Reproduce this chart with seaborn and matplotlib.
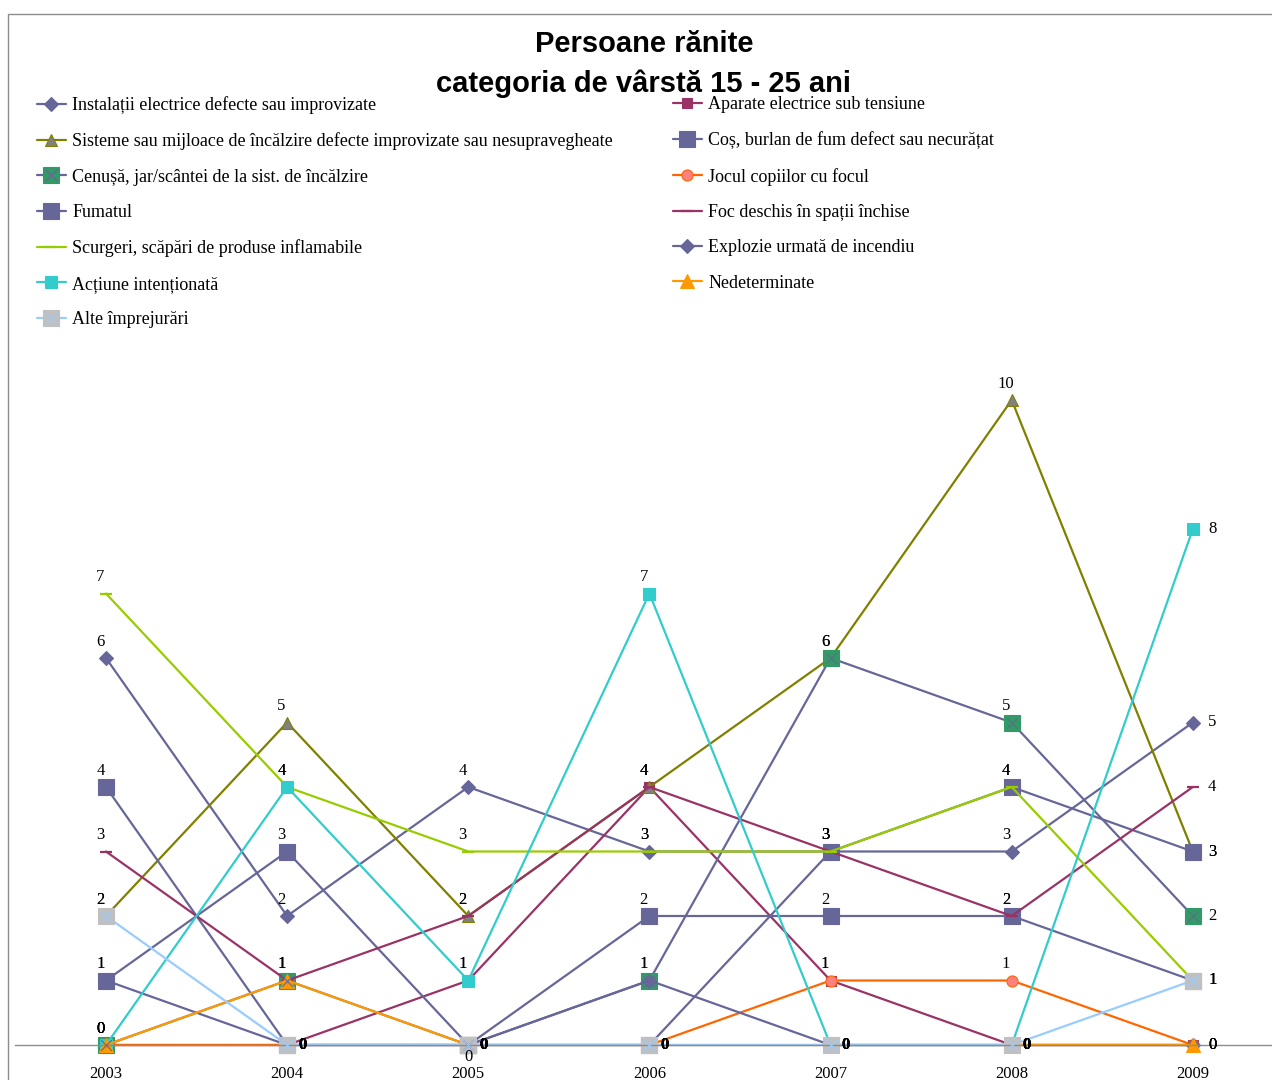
import pandas as pd
import numpy as np
import matplotlib.pyplot as plt
import seaborn as sns
from matplotlib.lines import Line2D
from matplotlib.legend_handler import HandlerTuple
from matplotlib.patches import Rectangle

years = [2003, 2004, 2005, 2006, 2007, 2008, 2009]

# values per cause
instalatii = [6, 2, 4, 3, 3, 3, 5]
aparate = [0, 0, 1, 4, 1, 0, 0]
sisteme = [2, 5, 2, 4, 6, 10, 3]
cos = [1, 3, 0, 2, 2, 2, 1]
cenusa = [0, 1, 0, 1, 6, 5, 2]
jocul = [0, 0, 0, 0, 1, 1, 0]
fumatul = [4, 0, 0, 0, 3, 4, 3]
foc = [3, 1, 2, 4, 3, 2, 4]
scurgeri = [7, 4, 3, 3, 3, 4, 1]
explozie = [1, 0, 0, 1, 0, 0, 0]
actiune = [0, 4, 1, 7, 0, 0, 8]
nedeterminate = [0, 1, 0, 0, 0, 0, 0]
alte = [2, 0, 0, 0, 0, 0, 1]

names = [
    'Instalații electrice defecte sau improvizate',
    'Aparate electrice sub tensiune',
    'Sisteme sau mijloace de încălzire defecte improvizate sau nesupravegheate',
    'Coș, burlan de fum defect sau necurățat',
    'Cenușă, jar/scântei de la sist. de încălzire',
    'Jocul copiilor cu focul',
    'Fumatul',
    'Foc deschis în spații închise',
    'Scurgeri, scăpări de produse inflamabile',
    'Explozie urmată de incendiu',
    'Acțiune intenționată',
    'Nedeterminate',
    'Alte împrejurări',
]
values = [instalatii, aparate, sisteme, cos, cenusa, jocul, fumatul,
          foc, scurgeri, explozie, actiune, nedeterminate, alte]

# line colour, marker, marker size, face colour, edge colour, overlay x colour
styles = [
    ('#666699', 'D', 7, '#666699', '#666699', None),
    ('#993366', 's', 7, '#993366', '#993366', None),
    ('#808000', '^', 9, '#808080', '#808000', None),
    ('#666699', 's', 11, '#666699', '#666699', None),
    ('#666699', 's', 11, '#339966', '#339966', '#666699'),
    ('#FF6600', 'o', 8, '#FF8080', '#FF6600', None),
    ('#666699', 's', 11, '#666699', '#666699', None),
    ('#993366', '_', 8, '#993366', '#993366', None),
    ('#99CC00', '_', 9, '#99CC00', '#99CC00', None),
    ('#666699', 'D', 7, '#666699', '#666699', None),
    ('#33CCCC', 's', 8, '#33CCCC', '#33CCCC', None),
    ('#FF9900', '^', 10, '#FF9900', '#FF9900', None),
    ('#99CCFF', 's', 11, '#C0C0C0', '#C0C0C0', '#99CCFF'),
]

sns.set_style('white')
plt.rcParams['font.family'] = ['Liberation Serif', 'DejaVu Serif']
plt.rcParams['text.color'] = 'black'
plt.rcParams['xtick.color'] = 'black'

fig = plt.figure(figsize=(12.72, 10.8), dpi=100)
ax = fig.add_axes([15.4 / 1272, 35 / 1080, 1268 / 1272, 709.5 / 1080])

handles = []
for nm, v, st in zip(names, values, styles):
    lc, mk, ms, fc, ec, xc = st
    sns.lineplot(x=years, y=v, ax=ax, color=lc, lw=1.6, marker=mk,
                 markersize=ms, markerfacecolor=fc, markeredgecolor=ec,
                 markeredgewidth=1.6 if mk == '_' else 0.8, clip_on=False)
    h = Line2D([], [], color=lc, lw=1.6, marker=mk, markersize=ms,
               markerfacecolor=fc, markeredgecolor=ec,
               markeredgewidth=1.6 if mk == '_' else 0.8)
    if xc:
        ax.scatter(years, v, marker='x', s=60, color=xc, linewidths=0.8,
                   zorder=3, clip_on=False)
        hx = Line2D([], [], ls='none', marker='x', markersize=8, color=xc,
                    markeredgewidth=0.8)
        handles.append((h, hx))
    else:
        handles.append(h)

# value labels
for v in values:
    for yr, val in zip(years, v):
        if yr == 2009:
            ax.annotate(str(val), (yr, val), xytext=(11, 0),
                        textcoords='offset points', ha='left', va='center',
                        fontsize=12)
        elif val == 0 and yr != 2003:
            ax.annotate('0', (yr, val), xytext=(8, 0),
                        textcoords='offset points', ha='left', va='center',
                        fontsize=12, fontweight='bold')
        else:
            ax.annotate(str(val), (yr, val), xytext=(-4, 6),
                        textcoords='offset points', ha='center', va='bottom',
                        fontsize=12)
# the extra zero shown under 2005
ax.annotate('0', (2005, 0), xytext=(0, -3), textcoords='offset points',
            ha='center', va='top', fontsize=12)

ax.set_xlim(2002.5, 2009.5)
ax.set_ylim(0, 11)
ax.set_xticks(years)
ax.set_xticklabels([str(y) for y in years], fontsize=12)
ax.set_yticks([])
ax.tick_params(axis='x', length=0, pad=15)
for s in ['top', 'right', 'left']:
    ax.spines[s].set_visible(False)
ax.spines['bottom'].set_color('#8c8c8c')
ax.spines['bottom'].set_linewidth(1)
ax.set_xlabel('')
ax.set_ylabel('')
ax.patch.set_alpha(0)

fig.text(644 / 1272, 1 - 44 / 1080, 'Persoane rănite', ha='center',
         va='center', fontsize=21, fontweight='bold', family='Liberation Sans')
fig.text(644 / 1272, 1 - 84 / 1080, 'categoria de vârstă 15 - 25 ani',
         ha='center', va='center', fontsize=21, fontweight='bold',
         family='Liberation Sans')

hm = {tuple: HandlerTuple(ndivide=1)}
kw = dict(loc='upper left', frameon=False, fontsize=13, handlelength=1.6,
          handletextpad=0.35, labelspacing=1.02, borderpad=0, handler_map=hm)
left = fig.legend(handles[0::2], names[0::2],
                  bbox_to_anchor=(28 / 1272, 1 - 87 / 1080), **kw)
right = fig.legend(handles[1::2], names[1::2],
                   bbox_to_anchor=(664 / 1272, 1 - 87 / 1080), **kw)

fig.patches.append(Rectangle((8 / 1272, -0.1), 1.2, 1 - 14 / 1080 + 0.1,
                             transform=fig.transFigure, fill=False,
                             edgecolor='#8c8c8c', lw=1))

fig.savefig('out.png', dpi=100)
